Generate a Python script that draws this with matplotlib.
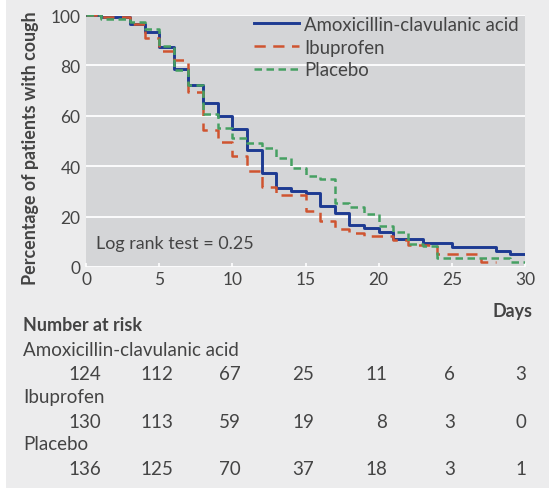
import matplotlib
matplotlib.use("Agg")
import matplotlib.pyplot as plt
from matplotlib.patches import Rectangle

plt.rcParams['font.family'] = ['Lato', 'DejaVu Sans']

# Kaplan-Meier step data (day of step, percentage still coughing)
amox_days = [0, 1, 3, 4, 5, 6, 7, 8, 9, 10, 11, 12, 13, 14, 15, 16, 17, 18, 19, 20, 21, 23, 25, 28, 29, 30]
amox_pct = [100, 99.2, 96.3, 93.3, 87.5, 78.6, 72.2, 65.1, 59.9, 54.6, 46.3, 37.3, 31.5, 30.3, 29.4,
            24.1, 21.6, 16.6, 15.5, 13.9, 11.3, 9.7, 8.1, 6.3, 5.0, 5.0]

ibu_days = [0, 1, 3, 4, 5, 6, 7, 8, 9, 10, 11, 12, 13, 15, 16, 17, 18, 19, 21, 22, 24, 27, 28]
ibu_pct = [100, 99.2, 96.3, 90.8, 85.6, 82.2, 69.5, 54.5, 49.7, 43.9, 37.9, 31.8, 28.4, 22.4,
           18.1, 15.0, 13.5, 12.3, 10.6, 8.9, 5.2, 1.8, 1.8]

plac_days = [0, 1, 3, 4, 5, 6, 7, 8, 9, 10, 11, 12, 13, 14, 15, 16, 17, 18, 19, 20, 21, 22, 23, 24, 29, 30]
plac_pct = [100, 98.5, 97.4, 94.5, 87.6, 78.0, 72.2, 60.6, 55.0, 51.2, 49.3, 47.2, 43.2, 39.3, 36.2,
            34.9, 25.5, 23.8, 21.2, 16.3, 13.9, 9.2, 8.4, 3.4, 1.8, 1.8]

group_names = ['Amoxicillin-clavulanic acid', 'Ibuprofen', 'Placebo']
risk_amox = [124, 112, 67, 25, 11, 6, 3]
risk_ibu = [130, 113, 59, 19, 8, 3, 0]
risk_plac = [136, 125, 70, 37, 18, 3, 1]

x_ticks = [0, 5, 10, 15, 20, 25, 30]
y_ticks = [0, 20, 40, 60, 80, 100]

BG = '#ececed'
PANEL = '#d4d5d7'
TXT = '#444444'
BLUE = '#1d3a92'
RED = '#cf5430'
GREEN = '#46a062'
FS = 12.9
FS_TAB = 13.5

W, H = 549, 489
fig = plt.figure(figsize=(W / 100, H / 100), dpi=100)
fig.patch.set_facecolor('white')
fig.patches.append(Rectangle((6 / W, 0), 1, 1, transform=fig.transFigure,
                             facecolor=BG, edgecolor='none', zorder=-10))


def fx(px):
    return px / W


def fy(py):
    return 1 - py / H


ax = fig.add_axes([fx(86), fy(268), fx(525) - fx(86), fy(16) - fy(268)])
ax.set_facecolor(PANEL)
for s in ax.spines.values():
    s.set_visible(False)

ax.set_xlim(0, 30)
ax.set_ylim(0, 100)
ax.set_xticks(x_ticks)
ax.set_yticks(y_ticks)
ax.grid(axis='y', color='white', linewidth=1.3)
ax.set_axisbelow(True)
ax.tick_params(axis='x', direction='in', length=3, width=1.2, color='white',
               labelsize=12.5, labelcolor=TXT, pad=3)
ax.tick_params(axis='y', length=0, labelsize=12.5, labelcolor=TXT, pad=4)

ax.step(amox_days, amox_pct, where='post', color=BLUE, linewidth=2.1,
        label=group_names[0], zorder=3)
ax.step(ibu_days, ibu_pct, where='post', color=RED, linewidth=1.8,
        linestyle=(0, (4.5, 3)), label=group_names[1], zorder=4)
ax.step(plac_days, plac_pct, where='post', color=GREEN, linewidth=1.8,
        linestyle=(0, (3, 1.8)), label=group_names[2], zorder=5)

leg = ax.legend(loc='upper left', bbox_to_anchor=(fx(254), fy(17)),
                bbox_transform=fig.transFigure, frameon=False, fontsize=13.4,
                handlelength=2.4, handletextpad=0.3, labelspacing=0.3,
                borderaxespad=0, borderpad=0)
for t in leg.get_texts():
    t.set_color(TXT)

ax.text(0.66, 9.7, 'Log rank test = 0.25', fontsize=FS, color=TXT, va='center', ha='left')

fig.text(fx(31), fy(148), 'Percentage of patients with cough', rotation=90,
         fontsize=FS, fontweight='bold', color=TXT, ha='center', va='center')

fig.text(fx(533), fy(311), 'Days', fontsize=FS, fontweight='bold', color=TXT,
         ha='right', va='center')
fig.text(fx(23), fy(326), 'Number at risk', fontsize=FS, fontweight='bold', color=TXT,
         ha='left', va='center')

col_right = [101, 173, 241, 314, 387, 455, 526]
row_y = [(351, 375), (398, 422), (445, 470)]
for name, counts, (yn, yc) in zip(group_names, [risk_amox, risk_ibu, risk_plac], row_y):
    fig.text(fx(23), fy(yn), name, fontsize=FS_TAB, color=TXT, ha='left', va='center')
    for xr, n in zip(col_right, counts):
        fig.text(fx(xr), fy(yc), str(n), fontsize=FS_TAB, color=TXT, ha='right', va='center')

fig.savefig('out.png', dpi=100, facecolor=fig.get_facecolor())
